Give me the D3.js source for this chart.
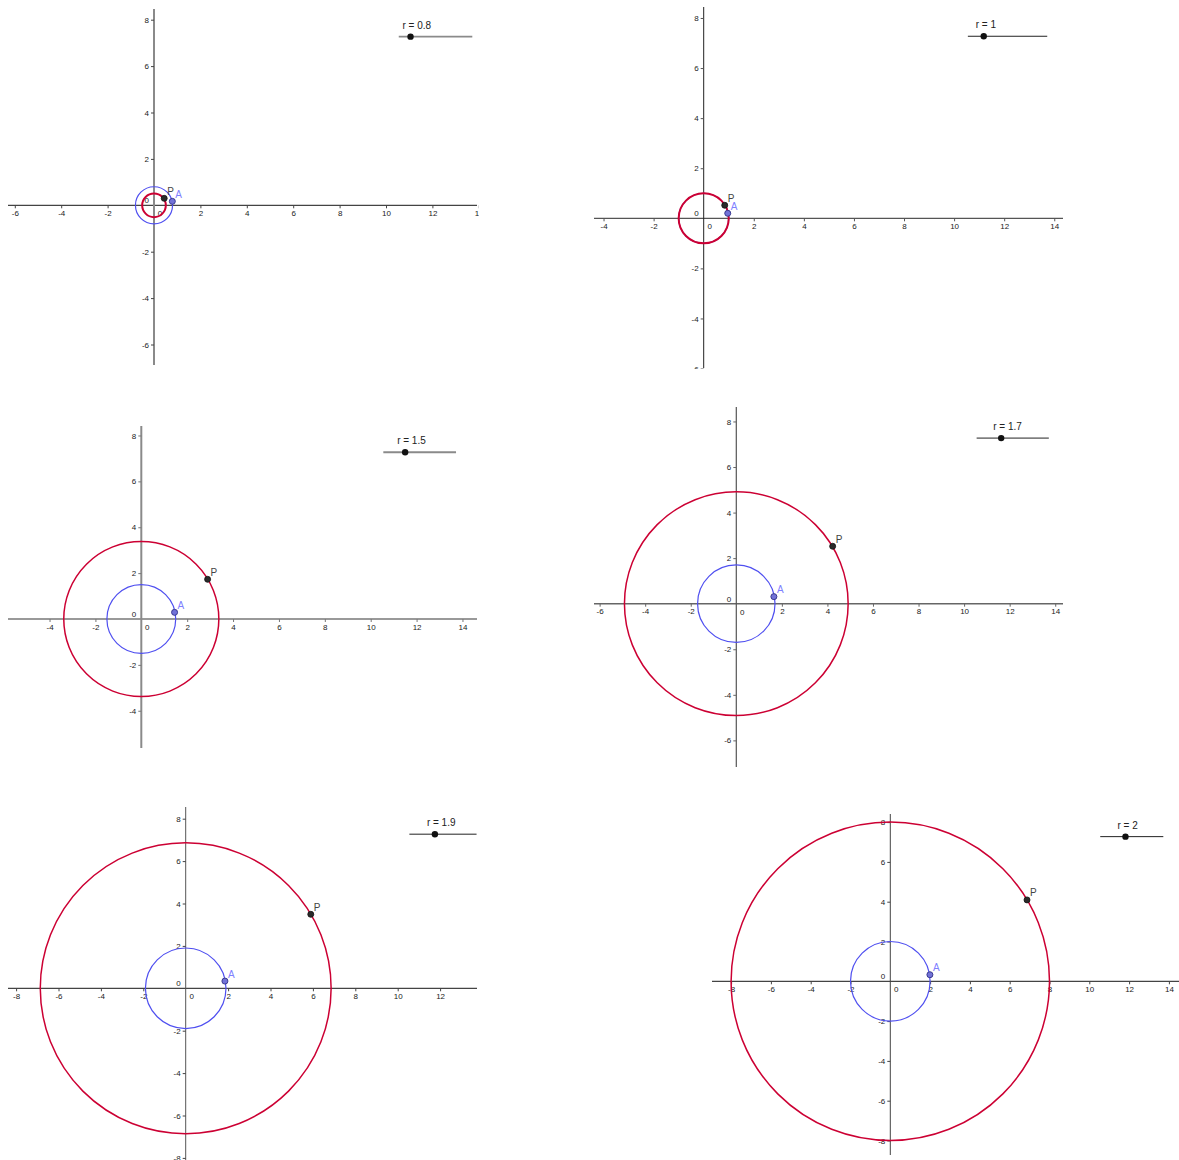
<!DOCTYPE html>
<html>
<head>
<meta charset="utf-8">
<script src="https://cdn.jsdelivr.net/npm/d3@7"></script>
<style>
  body { margin: 0; background: #fff; }
  text { font-family: "Liberation Sans", Arial, sans-serif; }
</style>
</head>
<body>
<svg id="chart" width="1179" height="1160"></svg>
<script>
// slider value r for each screenshot
var rValues = [0.8, 1, 1.5, 1.7, 1.9, 2];
// radius of the red circle
var outerRadius = [0.51, 1, 3.38, 4.91, 6.86, 8];
// point A on the blue circle, point P on the red circle
var pointA = [[0.79, 0.17], [0.96, 0.2], [1.45, 0.29], [1.65, 0.31], [1.85, 0.34], [1.99, 0.33]];
var pointP = [[0.44, 0.3], [0.84, 0.52], [2.89, 1.73], [4.23, 2.52], [5.9, 3.49], [6.87, 4.09]];
// tick labels
var xTickValues = [
  [-6, -4, -2, 2, 4, 6, 8, 10, 12, 14],
  [-4, -2, 2, 4, 6, 8, 10, 12, 14],
  [-4, -2, 2, 4, 6, 8, 10, 12, 14],
  [-6, -4, -2, 2, 4, 6, 8, 10, 12, 14],
  [-8, -6, -4, -2, 2, 4, 6, 8, 10, 12],
  [-8, -6, -4, -2, 2, 4, 6, 8, 10, 12, 14]
];
var yTickValues = [
  [-6, -4, -2, 2, 4, 6, 8],
  [-6, -4, -2, 2, 4, 6, 8],
  [-4, -2, 2, 4, 6, 8],
  [-6, -4, -2, 2, 4, 6, 8],
  [-8, -6, -4, -2, 2, 4, 6, 8],
  [-8, -6, -4, -2, 2, 4, 6, 8]
];
// slider: value range and where it sits in graph units
var sliderRange = [0, 5];
var sliderX = [10.55, 13.72];
var sliderY = 7.27;

// screen layout of each screenshot (origin, px per unit, axis extents, clip box)
var panels = [
  {ox: 154, oy: 205.3, k: 23.2, ax: [8, 477], ay: [9, 365], clip: [0, 0, 479, 372], axisColor: '#8a8a8a', yW: 2, xColor: '#444', xW: 1.2},
  {ox: 703.7, oy: 218.3, k: 25.04, ax: [594, 1063], ay: [7, 368], clip: [590, 0, 589, 369], axisColor: '#222', yW: 1, xColor: '#555', xW: 1.2},
  {ox: 141.3, oy: 619, k: 22.94, ax: [8, 477], ay: [426, 748], clip: [0, 400, 490, 360], axisColor: '#8a8a8a', yW: 2, xColor: '#777', xW: 1.5},
  {ox: 736.3, oy: 603.7, k: 22.78, ax: [594, 1063], ay: [407, 767], clip: [590, 400, 589, 370], axisColor: '#555', yW: 1.2, xColor: '#666', xW: 1.5},
  {ox: 185.7, oy: 988.3, k: 21.2, ax: [8, 477], ay: [807, 1160], clip: [0, 790, 490, 370], axisColor: '#555', yW: 1, xColor: '#444', xW: 1.2},
  {ox: 890.3, oy: 981.3, k: 19.9, ax: [712, 1179], ay: [814, 1155], clip: [700, 800, 479, 360], axisColor: '#444', yW: 1, xColor: '#444', xW: 1.2}
];

var svg = d3.select('#chart');
svg.append('rect').attr('width', 1179).attr('height', 1160).attr('fill', '#fff');

var fmt = function(d) { return d < 0 ? '-' + Math.abs(d) : '' + d; };

panels.forEach(function(p, i) {
  svg.append('clipPath').attr('id', 'clip' + i)
    .append('rect').attr('x', p.clip[0]).attr('y', p.clip[1]).attr('width', p.clip[2]).attr('height', p.clip[3]);
  var g = svg.append('g').attr('clip-path', 'url(#clip' + i + ')');

  var x = d3.scaleLinear().domain([0, 1]).range([p.ox, p.ox + p.k]);
  var y = d3.scaleLinear().domain([0, 1]).range([p.oy, p.oy - p.k]);

  // axis lines
  g.append('line').attr('x1', p.ax[0]).attr('x2', p.ax[1]).attr('y1', p.oy).attr('y2', p.oy)
    .attr('stroke', p.xColor).attr('stroke-width', p.xW);
  g.append('line').attr('x1', p.ox).attr('x2', p.ox).attr('y1', p.ay[0]).attr('y2', p.ay[1])
    .attr('stroke', p.axisColor).attr('stroke-width', p.yW);

  var xAxis = d3.axisBottom(x).tickValues(xTickValues[i]).tickFormat(fmt).tickSizeInner(3).tickSizeOuter(0).tickPadding(2);
  var yAxis = d3.axisLeft(y).tickValues(yTickValues[i]).tickFormat(fmt).tickSizeInner(3).tickSizeOuter(0).tickPadding(2);

  g.append('g').attr('transform', 'translate(0,' + p.oy + ')').call(xAxis)
    .call(function(s) {
      s.select('.domain').remove();
      s.selectAll('line').attr('stroke', p.xColor);
      s.selectAll('text').attr('fill', '#222').attr('font-size', 8).attr('font-family', '"Liberation Sans", Arial, sans-serif');
    });
  g.append('g').attr('transform', 'translate(' + p.ox + ',0)').call(yAxis)
    .call(function(s) {
      s.select('.domain').remove();
      s.selectAll('line').attr('stroke', p.xColor);
      s.selectAll('text').attr('fill', '#222').attr('font-size', 8).attr('font-family', '"Liberation Sans", Arial, sans-serif');
    });

  // origin labels
  g.append('text').attr('x', x(0) + 6).attr('y', y(0) + 11).attr('text-anchor', 'middle')
    .attr('font-size', 8).attr('fill', '#222').text('0');
  g.append('text').attr('x', x(0) - 5).attr('y', y(0) - 2).attr('text-anchor', 'end')
    .attr('font-size', 8).attr('fill', '#222').text('0');

  // blue circle radius r, red circle
  g.append('circle').attr('cx', x(0)).attr('cy', y(0)).attr('r', x(rValues[i]) - x(0))
    .attr('fill', 'none').attr('stroke', '#4f4ff0').attr('stroke-width', 1.2);
  g.append('circle').attr('cx', x(0)).attr('cy', y(0)).attr('r', x(outerRadius[i]) - x(0))
    .attr('fill', 'none').attr('stroke', '#cc0033').attr('stroke-width', i < 2 ? 2 : 1.5);

  // point P
  var P = pointP[i], A = pointA[i];
  g.append('circle').attr('cx', x(P[0])).attr('cy', y(P[1])).attr('r', 3)
    .attr('fill', '#2a2a2a').attr('stroke', '#111').attr('stroke-width', 0.8);
  g.append('text').attr('x', x(P[0]) + 3).attr('y', y(P[1]) - 3.5).attr('font-size', 10).attr('fill', '#444').text('P');
  // point A
  g.append('circle').attr('cx', x(A[0])).attr('cy', y(A[1])).attr('r', 3)
    .attr('fill', '#7272d8').attr('stroke', '#3a3a90').attr('stroke-width', 1);
  g.append('text').attr('x', x(A[0]) + 3).attr('y', y(A[1]) - 3.5).attr('font-size', 10).attr('fill', '#8080ff').text('A');

  // slider
  var s = d3.scaleLinear().domain(sliderRange).range(sliderX);
  g.append('line').attr('x1', x(sliderX[0])).attr('x2', x(sliderX[1])).attr('y1', y(sliderY)).attr('y2', y(sliderY))
    .attr('stroke', i === 0 || i === 2 ? '#8a8a8a' : '#222').attr('stroke-width', i === 0 || i === 2 ? 1.8 : 1);
  g.append('circle').attr('cx', x(s(rValues[i]))).attr('cy', y(sliderY)).attr('r', 3.2).attr('fill', '#111');
  g.append('text').attr('x', x(s(rValues[i])) - 8).attr('y', y(sliderY) - 8)
    .attr('font-size', 10).attr('fill', '#222').text('r = ' + rValues[i]);
});
</script>
</body>
</html>
